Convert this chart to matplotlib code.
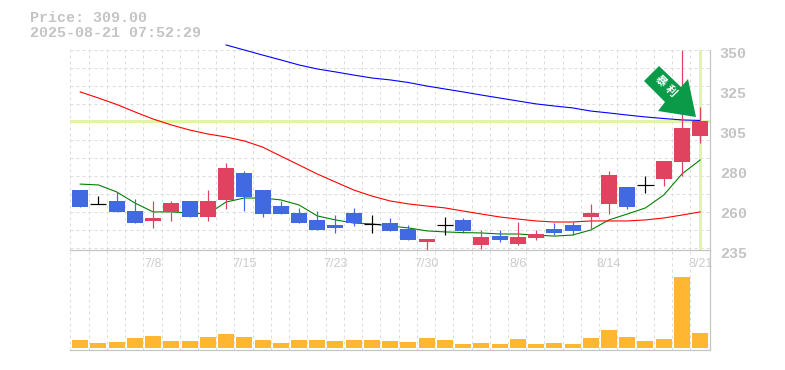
import matplotlib
matplotlib.use('Agg')
import matplotlib.pyplot as plt
import numpy as np
from matplotlib.patches import Polygon
from matplotlib.transforms import ScaledTranslation

# open/close decide colour (close>open red, close<open blue, same = black)
opens = [269.5, 261.4, 263.2, 257.4, 251.7, 256.9, 263.2, 254.0, 263.8, 279.3, 269.5, 260.3,
         256.3, 252.3, 249.4, 256.3, 250.2, 250.5, 247.1, 239.6, 249.4, 252.3, 237.9, 243.0,
         238.4, 241.9, 247.1, 249.4, 254.0, 261.4, 271.2, 272.4, 275.8, 285.6, 300.6]
closes = [259.7, 261.4, 256.9, 250.5, 253.4, 262.0, 254.0, 263.2, 282.2, 265.5, 255.7, 255.7,
          250.5, 246.5, 247.7, 250.5, 250.2, 245.9, 240.8, 241.3, 249.4, 245.9, 242.5, 240.8,
          242.5, 244.2, 244.8, 245.9, 256.3, 278.1, 259.7, 272.4, 286.2, 305.2, 309.0]
highs = [269.5, 266.0, 268.4, 264.3, 263.2, 263.2, 263.2, 269.5, 285.0, 280.4, 269.5, 263.2,
         259.2, 257.4, 255.1, 259.2, 255.1, 253.4, 249.4, 241.3, 254.0, 253.4, 246.5, 246.5,
         251.1, 246.5, 250.5, 251.1, 261.4, 280.4, 271.2, 277.5, 286.2, 350.0, 317.2]
lows = [259.7, 261.4, 256.9, 250.5, 247.7, 251.7, 254.0, 251.7, 258.6, 257.4, 254.0, 255.7,
        250.5, 246.5, 244.8, 248.8, 244.8, 245.9, 240.8, 234.4, 243.7, 244.8, 235.6, 239.6,
        237.9, 240.8, 243.7, 243.7, 246.5, 255.7, 258.6, 267.8, 271.8, 277.5, 296.5]
volumes = [8, 5, 6, 10, 12, 7, 7, 11, 14, 11, 8, 5, 8, 8, 7, 8, 8, 7,
           6, 10, 8, 4, 5, 4, 9, 4, 5, 4, 10, 18, 11, 7, 9, 71, 15]

ma_short = [272.9, 272.4, 268.4, 262.0, 256.9, 256.9, 256.3, 255.7, 262.6, 264.9, 264.9, 263.8,
            260.9, 254.6, 252.3, 250.5, 250.0, 248.8, 247.7, 246.0, 245.4, 245.0, 244.8, 244.2,
            244.2, 243.6, 243.0, 243.6, 246.5, 252.3, 255.7, 259.2, 266.6, 278.7, 286.8]
ma_mid = [325.9, 322.4, 318.7, 314.4, 310.3, 306.9, 304.0, 301.7, 300.0, 297.7, 294.2, 289.0,
          283.9, 278.7, 274.1, 269.5, 266.0, 263.2, 261.5, 260.3, 259.2, 257.4, 255.7, 254.0,
          252.8, 251.7, 251.1, 251.1, 251.7, 251.7, 251.7, 252.3, 253.4, 255.1, 256.9]
ma_long = [352.9, 350.0, 347.1, 344.3, 341.4, 339.1, 337.4, 335.6, 333.9, 332.8, 331.3, 329.3,
           327.6, 325.9, 324.1, 322.4, 320.7, 319.0, 317.8, 316.7, 314.9, 313.8, 312.6, 311.5,
           310.6, 309.8, 309.5]
long_start = 8

price_ticks = [350, 327, 304, 281, 258, 235]
price_labels = ['350', '325', '305', '280', '260', '235']
date_pos = [4, 9, 14, 19, 24, 29, 34]
date_labels = ['7/8', '7/15', '7/23', '7/30', '8/6', '8/14', '8/21']
last_price = 309.0

W, H = 785, 370
GRAY = '#c4c4c4'
GRID = '#dcdcdc'
BLUE = '#4169e1'
RED = '#e0435f'
YEL = '#e2f5a6'
FONT = 'Liberation Mono'
PX = 0.72  # one pixel in points

fig = plt.figure(figsize=(W / 100, H / 100), dpi=100)
ax = fig.add_axes([70 / W, (H - 250) / H, 640 / W, 200 / H])
av = fig.add_axes([70 / W, (H - 350) / H, 640 / W, 100 / H])

# 18.235 px per candle, first candle centre at 80.2 px
xl = (70 - 80.2) / 18.235
xr = (710 - 80.2) / 18.235
x = np.arange(len(opens))

for a in (ax, av):
    a.set_xlim(xl, xr)
    a.patch.set_alpha(0)
    for s in a.spines.values():
        s.set_visible(False)
    for side in ('right', 'bottom'):
        a.spines[side].set_visible(True)
        a.spines[side].set_color(GRAY)
        a.spines[side].set_linewidth(PX * 1.2)
    a.tick_params(length=0)
    for g in x - 0.54:
        a.axvline(g, color=GRID, lw=PX, ls=(0, (3, 3)), zorder=0)

ax.set_ylim(235, 350)
for g in np.arange(350, 235, -18 * 0.575):
    ax.axhline(g, color=GRID, lw=PX, ls=(0, (3, 3)), zorder=0)

ax.axhline(last_price, color=YEL, lw=PX * 3, zorder=1)
ax.axvline(x[-1], color=YEL, lw=PX * 3, zorder=1)

ax.plot(x, ma_short, color='#008000', lw=PX * 1.1, zorder=2)
ax.plot(x, ma_mid, color='#ff0000', lw=PX * 1.1, zorder=2)
ax.plot(x[long_start:], ma_long, color='#0000ff', lw=PX * 1.1, zorder=2, clip_on=False)

for i in x:
    o, c = opens[i], closes[i]
    if o == c:
        ax.vlines(i, lows[i], highs[i], color='black', lw=PX * 1.2, zorder=3)
        ax.hlines(o, i - 0.44, i + 0.44, color='black', lw=PX * 1.2, zorder=3)
        continue
    col = RED if c > o else BLUE
    ax.vlines(i, lows[i], highs[i], color=col, lw=PX * 1.2, zorder=3)
    ax.bar(i, abs(c - o), bottom=min(o, c), width=0.877, color=col, lw=0, zorder=3)

av.set_ylim(-2, 98)
av.bar(x, volumes, width=0.877, color='#ffb733', lw=0, zorder=2)
av.set_yticks([])
av.set_xticks([])

ax.set_xticks(date_pos, date_labels, family='Liberation Sans', fontsize=9, color='#cccccc')
ax.tick_params(axis='x', pad=6)
ax.yaxis.tick_right()
ax.set_yticks(price_ticks, price_labels, family=FONT, fontweight='bold', fontsize=10.8, color=GRAY)
ax.tick_params(axis='y', pad=7)
off = ScaledTranslation(0, -2 / 100, fig.dpi_scale_trans)
for t in ax.get_yticklabels():
    t.set_transform(t.get_transform() + off)

# flag arrow, in screen pixels
pts = [(659, 66), (644, 81), (665, 102), (658, 111), (696, 117), (688, 79), (681, 87)]
fig.add_artist(Polygon([(p[0] / W, 1 - p[1] / H) for p in pts], closed=True, color='#0a9a48',
                       lw=0, transform=fig.transFigure, zorder=5))
for ch, px, py in [('暴', 661, 81), ('利', 671, 91)]:
    fig.text(px / W, 1 - py / H, ch, family=['Noto Sans CJK JP', 'DejaVu Sans'], fontsize=8,
             fontweight='bold', color='white', rotation=-45, ha='center', va='center', zorder=6)

fig.text(30 / W, 1 - 18 / H, 'Price: 309.00', family=FONT, fontweight='bold', fontsize=10.8, color=GRAY, va='center')
fig.text(30 / W, 1 - 33 / H, '2025-08-21 07:52:29', family=FONT, fontweight='bold', fontsize=10.8, color=GRAY, va='center')

fig.savefig('out.png', dpi=100)
